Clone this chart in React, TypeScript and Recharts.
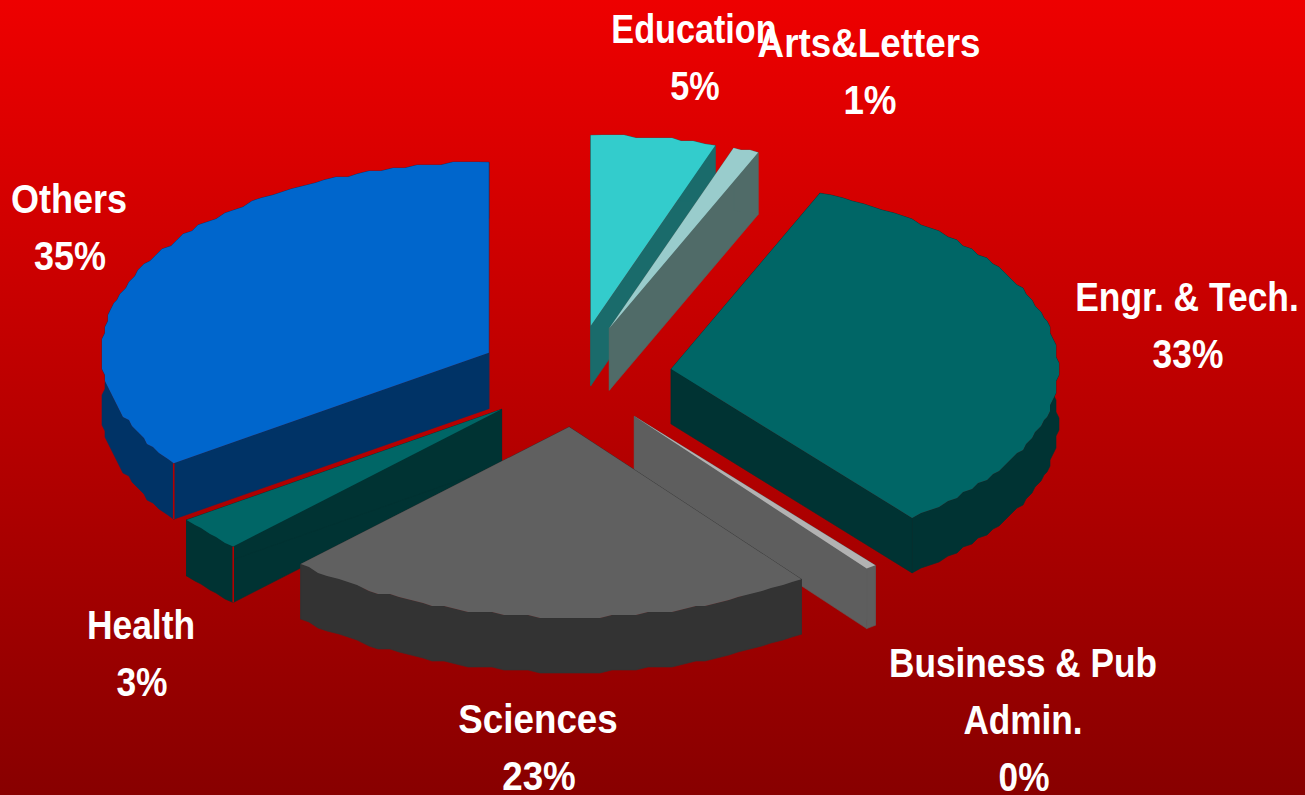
import { Pie, PieChart } from "recharts";

// slice order starts at Health so the painter's order matches the picture
const sliceNames = ["Health", "Others", "Education", "Arts&Letters", "Engr. & Tech.", "Business & Pub Admin.", "Sciences"];
const sliceValues = [2.95, 34.95, 5.22, 1.08, 33.1, 0.45, 22.5];

const data = sliceNames.map((name, i) => ({ name, value: sliceValues[i] }));

const WIDTH = 1305;
const HEIGHT = 795;
const TILT = 0.492; // squash of the circle into an ellipse
const EXPLODE_X = 97;
const EXPLODE_Y = 51;
const JAG = 3; // the outer rim is stepped in the original

const sliceStyles: Record<string, { top: string; wall: string; depth: number; seam?: boolean }> = {
  Health: { top: "#006666", wall: "#003333", depth: 56, seam: true },
  Others: { top: "#0066CC", wall: "#003366", depth: 56, seam: true },
  Education: { top: "#33CCCC", wall: "#1A6B6B", depth: 60 },
  "Arts&Letters": { top: "#99CCCC", wall: "#506B68", depth: 62 },
  "Engr. & Tech.": { top: "#006666", wall: "#003333", depth: 55 },
  "Business & Pub Admin.": { top: "#B2B2B2", wall: "#5E5E5E", depth: 60 },
  Sciences: { top: "#606060", wall: "#333333", depth: 55 },
};

const labelPlaces: Record<string, { x: number; y: number; sx: number; lines: string[] }> = {
  Health: { x: 141, y: 639, sx: 0.885, lines: ["Health"] },
  Others: { x: 69, y: 213, sx: 0.9, lines: ["Others"] },
  Education: { x: 694, y: 43, sx: 0.855, lines: ["Education"] },
  "Arts&Letters": { x: 869, y: 57, sx: 0.92, lines: ["Arts&Letters"] },
  "Engr. & Tech.": { x: 1187, y: 311, sx: 0.885, lines: ["Engr. & Tech."] },
  "Business & Pub Admin.": { x: 1023, y: 677, sx: 0.88, lines: ["Business & Pub", "Admin."] },
  Sciences: { x: 538, y: 733, sx: 0.92, lines: ["Sciences"] },
};

type Pt = [number, number];

const toPath = (pts: Pt[]) => "M" + pts.map((p) => `${p[0].toFixed(1)},${p[1].toFixed(1)}`).join("L") + "Z";

function Slice3D(props: any) {
  const { cx, cy, outerRadius, startAngle, endAngle, midAngle, name } = props;
  const style = sliceStyles[name];
  const rad = Math.PI / 180;
  const ax = cx + EXPLODE_X * Math.cos(midAngle * rad);
  const ay = cy - EXPLODE_Y * Math.sin(midAngle * rad);
  const steps = Math.max(1, Math.ceil(Math.abs(endAngle - startAngle) / 1.8));
  const arc: Pt[] = [];
  for (let i = 0; i <= steps; i++) {
    const a = (startAngle + ((endAngle - startAngle) * i) / steps) * rad;
    const x = ax + outerRadius * Math.cos(a);
    const y = ay - outerRadius * TILT * Math.sin(a);
    const inner = i > 0 && i < steps;
    arc.push(inner ? [Math.round(x / JAG) * JAG, Math.round(y / JAG) * JAG] : [x, y]);
  }
  const apex: Pt = [ax, ay];
  const first = arc[0];
  const last = arc[arc.length - 1];
  const drop = (pts: Pt[]): Pt[] => pts.map((p) => [p[0], p[1] + style.depth]);
  const band = [...arc, ...drop(arc).reverse()];
  const wallProps = { fill: style.wall, stroke: style.wall, strokeWidth: 0.6 };
  return (
    <g>
      <path d={toPath([apex, first, ...drop([first]), ...drop([apex])])} {...wallProps} />
      <path d={toPath([apex, last, ...drop([last]), ...drop([apex])])} {...wallProps} />
      <path d={toPath(band)} {...wallProps} />
      {style.seam && (
        <line x1={first[0]} y1={first[1]} x2={first[0]} y2={first[1] + style.depth} stroke="#B40000" strokeWidth={1.6} />
      )}
      <path d={toPath([apex, ...arc])} fill={style.top} />
    </g>
  );
}

function SliceLabel(props: any) {
  const place = labelPlaces[props.name];
  const lines = [...place.lines, `${Math.round(props.value)}%`];
  return (
    <g>
      {lines.map((line, i) => (
        <text
          key={line}
          transform={`translate(${place.x + (i === lines.length - 1 ? 1 : 0)},${place.y + i * 57}) scale(${place.sx},1)`}
          textAnchor="middle"
          fontFamily="Liberation Sans"
          fontWeight="bold"
          fontSize={40}
          fill="#FFFFFF"
        >
          {line}
        </text>
      ))}
    </g>
  );
}

export default function App() {
  return (
    <div
      style={{
        position: "absolute",
        left: 0,
        top: 0,
        width: WIDTH,
        height: HEIGHT,
        overflow: "hidden",
        background: "linear-gradient(180deg, #EE0000 0%, #880000 100%)",
      }}
    >
      <PieChart width={WIDTH} height={HEIGHT} margin={{ top: 0, right: 0, bottom: 0, left: 0 }}>
        <Pie
          data={data}
          dataKey="value"
          nameKey="name"
          cx={575}
          cy={376}
          innerRadius={0}
          outerRadius={387}
          startAngle={226.1}
          endAngle={-133.9}
          stroke="none"
          shape={Slice3D}
          label={SliceLabel}
          labelLine={false}
          isAnimationActive={false}
        />
      </PieChart>
    </div>
  );
}
